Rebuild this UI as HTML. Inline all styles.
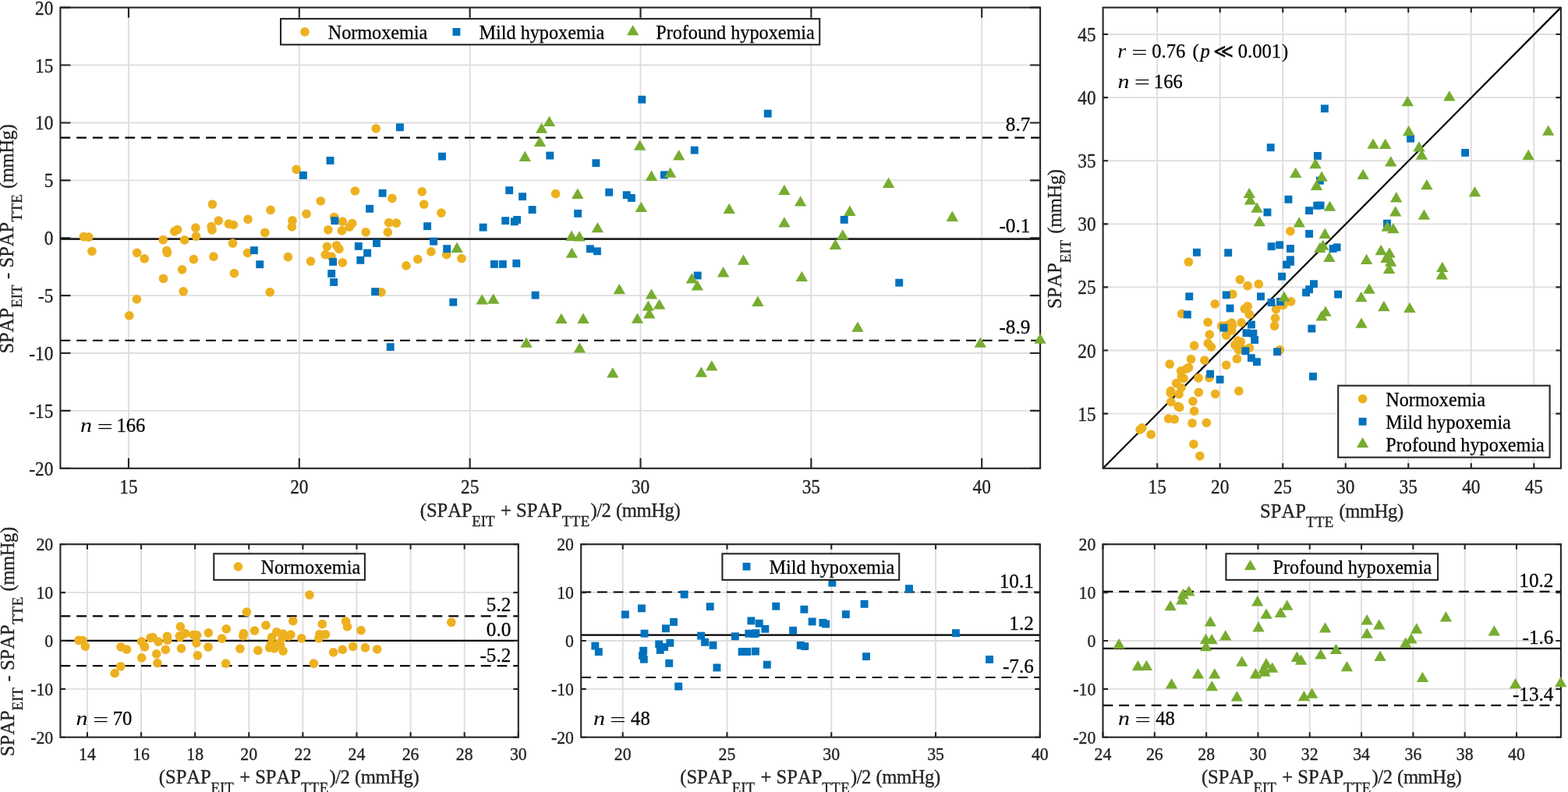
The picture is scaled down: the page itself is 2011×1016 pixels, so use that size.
<!DOCTYPE html>
<html lang="en"><head><meta charset="utf-8"><title>SPAP EIT vs TTE: Bland-Altman and correlation</title>
<style>html,body{margin:0;padding:0;background:#fff;}body{width:2011px;height:1016px;overflow:hidden;}svg{display:block;font-family:'Liberation Serif', 'DejaVu Serif', serif;font-kerning:none;}text{white-space:pre;stroke:#111;stroke-width:0.3px;stroke-linejoin:round;}</style>
</head><body>
<svg width="2011" height="1016" viewBox="0 0 2011 1016">
<rect width="2011" height="1016" fill="#fff"/>
<g stroke="#dedede" stroke-width="1.9" fill="none">
<line x1="164.94" y1="9.65" x2="164.94" y2="600.8"/>
<line x1="383.79" y1="9.65" x2="383.79" y2="600.8"/>
<line x1="602.64" y1="9.65" x2="602.64" y2="600.8"/>
<line x1="821.49" y1="9.65" x2="821.49" y2="600.8"/>
<line x1="1040.34" y1="9.65" x2="1040.34" y2="600.8"/>
<line x1="1259.19" y1="9.65" x2="1259.19" y2="600.8"/>
<line x1="77.4" y1="526.91" x2="1334.1" y2="526.91"/>
<line x1="77.4" y1="453.01" x2="1334.1" y2="453.01"/>
<line x1="77.4" y1="379.12" x2="1334.1" y2="379.12"/>
<line x1="77.4" y1="305.22" x2="1334.1" y2="305.22"/>
<line x1="77.4" y1="231.33" x2="1334.1" y2="231.33"/>
<line x1="77.4" y1="157.44" x2="1334.1" y2="157.44"/>
<line x1="77.4" y1="83.54" x2="1334.1" y2="83.54"/>
</g>
<line x1="77.4" y1="176.65" x2="1334.1" y2="176.65" stroke="#000" stroke-width="2.1" stroke-dasharray="12.8 7.944"/>
<line x1="77.4" y1="306.7" x2="1334.1" y2="306.7" stroke="#000" stroke-width="2.2"/>
<line x1="77.4" y1="436.76" x2="1334.1" y2="436.76" stroke="#000" stroke-width="2.1" stroke-dasharray="12.8 7.944"/>
<g stroke="#262626" stroke-width="2.1" fill="none">
<rect x="77.4" y="9.65" width="1256.7" height="591.15"/>
<path d="M164.94 600.8v-13M164.94 9.65v13M383.79 600.8v-13M383.79 9.65v13M602.64 600.8v-13M602.64 9.65v13M821.49 600.8v-13M821.49 9.65v13M1040.34 600.8v-13M1040.34 9.65v13M1259.19 600.8v-13M1259.19 9.65v13M77.4 600.8h13M1334.1 600.8h-13M77.4 526.91h13M1334.1 526.91h-13M77.4 453.01h13M1334.1 453.01h-13M77.4 379.12h13M1334.1 379.12h-13M77.4 305.22h13M1334.1 305.22h-13M77.4 231.33h13M1334.1 231.33h-13M77.4 157.44h13M1334.1 157.44h-13M77.4 83.54h13M1334.1 83.54h-13M77.4 9.65h13M1334.1 9.65h-13"/>
</g>
<g fill="#edb120">
<circle cx="107.3" cy="303.68" r="5.85"/>
<circle cx="113.8" cy="304.18" r="5.85"/>
<circle cx="117.9" cy="322.27" r="5.85"/>
<circle cx="175.7" cy="324.37" r="5.85"/>
<circle cx="185.2" cy="331.97" r="5.85"/>
<circle cx="209.2" cy="307.67" r="5.85"/>
<circle cx="213.8" cy="321.57" r="5.85"/>
<circle cx="214.5" cy="324.27" r="5.85"/>
<circle cx="209.5" cy="357.47" r="5.85"/>
<circle cx="223.8" cy="296.78" r="5.85"/>
<circle cx="227.6" cy="294.68" r="5.85"/>
<circle cx="236.6" cy="307.97" r="5.85"/>
<circle cx="233.6" cy="345.87" r="5.85"/>
<circle cx="250.9" cy="292.08" r="5.85"/>
<circle cx="251.5" cy="303.08" r="5.85"/>
<circle cx="248.4" cy="332.67" r="5.85"/>
<circle cx="272.4" cy="262.08" r="5.85"/>
<circle cx="271.1" cy="290.58" r="5.85"/>
<circle cx="272" cy="294.98" r="5.85"/>
<circle cx="280.3" cy="283.18" r="5.85"/>
<circle cx="273.9" cy="329.07" r="5.85"/>
<circle cx="293.4" cy="287.18" r="5.85"/>
<circle cx="299.4" cy="288.48" r="5.85"/>
<circle cx="298.5" cy="312.07" r="5.85"/>
<circle cx="300.4" cy="350.57" r="5.85"/>
<circle cx="318" cy="281.28" r="5.85"/>
<circle cx="317.6" cy="324.47" r="5.85"/>
<circle cx="235.1" cy="373.87" r="5.85"/>
<circle cx="175.4" cy="383.77" r="5.85"/>
<circle cx="165.8" cy="404.87" r="5.85"/>
<circle cx="347" cy="269.38" r="5.85"/>
<circle cx="339.8" cy="298.38" r="5.85"/>
<circle cx="375" cy="282.88" r="5.85"/>
<circle cx="374.4" cy="290.88" r="5.85"/>
<circle cx="369.4" cy="329.67" r="5.85"/>
<circle cx="393" cy="274.28" r="5.85"/>
<circle cx="411.3" cy="257.98" r="5.85"/>
<circle cx="398.5" cy="335.07" r="5.85"/>
<circle cx="428.7" cy="278.48" r="5.85"/>
<circle cx="420.9" cy="294.88" r="5.85"/>
<circle cx="439.3" cy="284.08" r="5.85"/>
<circle cx="438.4" cy="295.88" r="5.85"/>
<circle cx="451.7" cy="286.58" r="5.85"/>
<circle cx="448.2" cy="291.18" r="5.85"/>
<circle cx="455.4" cy="244.98" r="5.85"/>
<circle cx="469.1" cy="297.78" r="5.85"/>
<circle cx="419.4" cy="316.37" r="5.85"/>
<circle cx="431.6" cy="314.77" r="5.85"/>
<circle cx="434.9" cy="319.47" r="5.85"/>
<circle cx="417.2" cy="326.67" r="5.85"/>
<circle cx="425" cy="329.17" r="5.85"/>
<circle cx="439.3" cy="336.87" r="5.85"/>
<circle cx="502.9" cy="254.28" r="5.85"/>
<circle cx="498.7" cy="285.58" r="5.85"/>
<circle cx="508.3" cy="286.18" r="5.85"/>
<circle cx="497.3" cy="297.88" r="5.85"/>
<circle cx="541.2" cy="245.88" r="5.85"/>
<circle cx="543.7" cy="262.08" r="5.85"/>
<circle cx="521" cy="340.77" r="5.85"/>
<circle cx="535.8" cy="332.57" r="5.85"/>
<circle cx="552.9" cy="322.97" r="5.85"/>
<circle cx="482.2" cy="164.79" r="5.85"/>
<circle cx="380.2" cy="217.38" r="5.85"/>
<circle cx="346.2" cy="374.87" r="5.85"/>
<circle cx="489" cy="374.87" r="5.85"/>
<circle cx="565.9" cy="273.18" r="5.85"/>
<circle cx="712.6" cy="248.68" r="5.85"/>
<circle cx="572.7" cy="326.67" r="5.85"/>
<circle cx="592" cy="331.57" r="5.85"/>
</g>
<g fill="#0072bd">
<rect x="320.95" y="316.22" width="9.9" height="9.9"/>
<rect x="328.25" y="334.22" width="9.9" height="9.9"/>
<rect x="424.35" y="278.23" width="9.9" height="9.9"/>
<rect x="422.15" y="330.92" width="9.9" height="9.9"/>
<rect x="420.25" y="346.02" width="9.9" height="9.9"/>
<rect x="423.15" y="357.02" width="9.9" height="9.9"/>
<rect x="454.85" y="310.92" width="9.9" height="9.9"/>
<rect x="466.15" y="319.62" width="9.9" height="9.9"/>
<rect x="457.35" y="328.82" width="9.9" height="9.9"/>
<rect x="469.15" y="262.83" width="9.9" height="9.9"/>
<rect x="478.05" y="307.02" width="9.9" height="9.9"/>
<rect x="485.65" y="242.83" width="9.9" height="9.9"/>
<rect x="543.15" y="285.23" width="9.9" height="9.9"/>
<rect x="551.15" y="304.72" width="9.9" height="9.9"/>
<rect x="507.95" y="158.34" width="9.9" height="9.9"/>
<rect x="418.55" y="201.03" width="9.9" height="9.9"/>
<rect x="383.95" y="219.93" width="9.9" height="9.9"/>
<rect x="476.15" y="369.22" width="9.9" height="9.9"/>
<rect x="495.75" y="440.21" width="9.9" height="9.9"/>
<rect x="568.25" y="314.22" width="9.9" height="9.9"/>
<rect x="614.65" y="286.73" width="9.9" height="9.9"/>
<rect x="643.25" y="278.23" width="9.9" height="9.9"/>
<rect x="654.85" y="279.43" width="9.9" height="9.9"/>
<rect x="658.15" y="277.03" width="9.9" height="9.9"/>
<rect x="648.25" y="239.23" width="9.9" height="9.9"/>
<rect x="665.15" y="247.23" width="9.9" height="9.9"/>
<rect x="677.65" y="264.13" width="9.9" height="9.9"/>
<rect x="628.95" y="333.92" width="9.9" height="9.9"/>
<rect x="639.95" y="333.92" width="9.9" height="9.9"/>
<rect x="657.35" y="332.92" width="9.9" height="9.9"/>
<rect x="736.15" y="268.93" width="9.9" height="9.9"/>
<rect x="776.25" y="241.73" width="9.9" height="9.9"/>
<rect x="751.95" y="314.32" width="9.9" height="9.9"/>
<rect x="760.95" y="317.32" width="9.9" height="9.9"/>
<rect x="562.05" y="195.73" width="9.9" height="9.9"/>
<rect x="700.35" y="194.63" width="9.9" height="9.9"/>
<rect x="759.45" y="204.23" width="9.9" height="9.9"/>
<rect x="576.35" y="382.72" width="9.9" height="9.9"/>
<rect x="681.65" y="373.72" width="9.9" height="9.9"/>
<rect x="798.75" y="245.23" width="9.9" height="9.9"/>
<rect x="804.95" y="249.03" width="9.9" height="9.9"/>
<rect x="889.75" y="348.52" width="9.9" height="9.9"/>
<rect x="818.35" y="122.74" width="9.9" height="9.9"/>
<rect x="979.75" y="140.74" width="9.9" height="9.9"/>
<rect x="885.75" y="187.73" width="9.9" height="9.9"/>
<rect x="846.95" y="219.43" width="9.9" height="9.9"/>
<rect x="1077.75" y="276.93" width="9.9" height="9.9"/>
<rect x="1148.25" y="357.72" width="9.9" height="9.9"/>
</g>
<g fill="#77ac30">
<path d="M586.1 310.61l7.7 13.3h-15.4z"/>
<path d="M740.8 241.61l7.7 13.3h-15.4z"/>
<path d="M733.1 295.61l7.7 13.3h-15.4z"/>
<path d="M743.1 296.21l7.7 13.3h-15.4z"/>
<path d="M766.4 284.91l7.7 13.3h-15.4z"/>
<path d="M733.4 317.51l7.7 13.3h-15.4z"/>
<path d="M704.5 148.72l7.7 13.3h-15.4z"/>
<path d="M694.6 157.52l7.7 13.3h-15.4z"/>
<path d="M692.5 174.82l7.7 13.3h-15.4z"/>
<path d="M673.3 193.62l7.7 13.3h-15.4z"/>
<path d="M618.2 377.3l7.7 13.3h-15.4z"/>
<path d="M632.7 376.5l7.7 13.3h-15.4z"/>
<path d="M719.9 401.8l7.7 13.3h-15.4z"/>
<path d="M748 401.6l7.7 13.3h-15.4z"/>
<path d="M675.1 432.5l7.7 13.3h-15.4z"/>
<path d="M743.4 439.3l7.7 13.3h-15.4z"/>
<path d="M794.3 364l7.7 13.3h-15.4z"/>
<path d="M822.3 258.71l7.7 13.3h-15.4z"/>
<path d="M935.2 260.71l7.7 13.3h-15.4z"/>
<path d="M1005.9 236.71l7.7 13.3h-15.4z"/>
<path d="M1026.6 251.31l7.7 13.3h-15.4z"/>
<path d="M1005.9 278.31l7.7 13.3h-15.4z"/>
<path d="M953.5 326.51l7.7 13.3h-15.4z"/>
<path d="M927.6 342.1l7.7 13.3h-15.4z"/>
<path d="M887.3 350.1l7.7 13.3h-15.4z"/>
<path d="M1028.3 347.8l7.7 13.3h-15.4z"/>
<path d="M820.6 179.42l7.7 13.3h-15.4z"/>
<path d="M870.7 192.12l7.7 13.3h-15.4z"/>
<path d="M859.6 214.42l7.7 13.3h-15.4z"/>
<path d="M835.5 218.61l7.7 13.3h-15.4z"/>
<path d="M894.4 359.3l7.7 13.3h-15.4z"/>
<path d="M835.5 370.3l7.7 13.3h-15.4z"/>
<path d="M845.6 383.4l7.7 13.3h-15.4z"/>
<path d="M831.4 385.4l7.7 13.3h-15.4z"/>
<path d="M832.8 395.1l7.7 13.3h-15.4z"/>
<path d="M817.5 401.5l7.7 13.3h-15.4z"/>
<path d="M971.9 379.6l7.7 13.3h-15.4z"/>
<path d="M912.8 462.29l7.7 13.3h-15.4z"/>
<path d="M899.4 470.39l7.7 13.3h-15.4z"/>
<path d="M785.8 471.29l7.7 13.3h-15.4z"/>
<path d="M1139.6 227.61l7.7 13.3h-15.4z"/>
<path d="M1089.9 263.61l7.7 13.3h-15.4z"/>
<path d="M1221.3 270.61l7.7 13.3h-15.4z"/>
<path d="M1080.8 294.21l7.7 13.3h-15.4z"/>
<path d="M1071.4 306.71l7.7 13.3h-15.4z"/>
<path d="M1100 412.5l7.7 13.3h-15.4z"/>
<path d="M1257.3 432.4l7.7 13.3h-15.4z"/>
<path d="M1334 427.4l7.7 13.3h-15.4z"/>
</g>
<g font-size="24.3" fill="#262626">
<g text-anchor="middle">
<text transform="translate(164.94 633.1) scale(0.96 1)">15</text>
<text transform="translate(383.79 633.1) scale(0.96 1)">20</text>
<text transform="translate(602.64 633.1) scale(0.96 1)">25</text>
<text transform="translate(821.49 633.1) scale(0.96 1)">30</text>
<text transform="translate(1040.34 633.1) scale(0.96 1)">35</text>
<text transform="translate(1259.19 633.1) scale(0.96 1)">40</text>
</g><g text-anchor="end">
<text transform="translate(68.4 609.8) scale(0.96 1)">-20</text>
<text transform="translate(68.4 535.91) scale(0.96 1)">-15</text>
<text transform="translate(68.4 462.01) scale(0.96 1)">-10</text>
<text transform="translate(68.4 388.12) scale(0.96 1)">-5</text>
<text transform="translate(68.4 314.22) scale(0.96 1)">0</text>
<text transform="translate(68.4 240.33) scale(0.96 1)">5</text>
<text transform="translate(68.4 166.44) scale(0.96 1)">10</text>
<text transform="translate(68.4 92.54) scale(0.96 1)">15</text>
<text transform="translate(68.4 18.65) scale(0.96 1)">20</text>
</g></g>
<text x="1321.3" y="168.25" font-size="25.2" text-anchor="end" fill="#000">8.7</text>
<text x="1321.3" y="298.3" font-size="25.2" text-anchor="end" fill="#000">-0.1</text>
<text x="1321.3" y="428.36" font-size="25.2" text-anchor="end" fill="#000">-8.9</text>
<text transform="translate(539.7 663.3)" font-size="24.6" fill="#262626"><tspan x="-1" y="0">(SPAP</tspan><tspan x="65.6" y="11.6" font-size="18.9">EIT</tspan><tspan x="102.4" y="0">+</tspan><tspan x="122.4" y="0">SPAP</tspan><tspan x="181.1" y="11.6" font-size="18.9" letter-spacing="0.4">TTE</tspan><tspan x="217.7" y="0" letter-spacing="-0.45">)/2</tspan><tspan x="250.2" y="0" letter-spacing="-0.4">(mmHg)</tspan></text>
<text transform="translate(16.7 452.6) rotate(-90)" font-size="24.6" fill="#262626"><tspan x="-1" y="0">SPAP</tspan><tspan x="57.8" y="11.6" font-size="18.9">EIT</tspan><tspan x="94.7" y="0">-</tspan><tspan x="109.1" y="0">SPAP</tspan><tspan x="168.1" y="11.6" font-size="18.9" letter-spacing="0.4">TTE</tspan><tspan x="210.6" y="0" letter-spacing="-0.4">(mmHg)</tspan></text>
<text transform="translate(102.99 554.4) scale(1.219 1)" font-size="24.6" fill="#000" style="stroke:none" font-style="italic">n</text>
<text transform="translate(124.46 556) scale(1.470 1)" font-size="24.6" fill="#000" style="stroke:none">=</text>
<text x="149.45" y="554.4" font-size="24.6" fill="#000">166</text>
<rect x="360" y="24.1" width="691.2" height="33.2" fill="#fff" stroke="#262626" stroke-width="2.1"/>
<circle cx="391" cy="40.9" r="5.85" fill="#edb120"/>
<text x="420.7" y="49.8" font-size="24.2" fill="#000">Normoxemia</text>
<rect x="580.45" y="35.95" width="9.9" height="9.9" fill="#0072bd"/>
<text x="614.6" y="49.8" font-size="24.2" fill="#000">Mild hypoxemia</text>
<path d="M811.7 32.03l7.7 13.3h-15.4z" fill="#77ac30"/>
<text x="841.2" y="49.8" font-size="24.2" fill="#000">Profound hypoxemia</text>
<g stroke="#dedede" stroke-width="1.9" fill="none">
<line x1="1484.2" y1="9.65" x2="1484.2" y2="600.8"/>
<line x1="1564.72" y1="9.65" x2="1564.72" y2="600.8"/>
<line x1="1645.23" y1="9.65" x2="1645.23" y2="600.8"/>
<line x1="1725.75" y1="9.65" x2="1725.75" y2="600.8"/>
<line x1="1806.27" y1="9.65" x2="1806.27" y2="600.8"/>
<line x1="1886.78" y1="9.65" x2="1886.78" y2="600.8"/>
<line x1="1967.3" y1="9.65" x2="1967.3" y2="600.8"/>
<line x1="1414.6" y1="530.6" x2="2001.9" y2="530.6"/>
<line x1="1414.6" y1="449.51" x2="2001.9" y2="449.51"/>
<line x1="1414.6" y1="368.42" x2="2001.9" y2="368.42"/>
<line x1="1414.6" y1="287.33" x2="2001.9" y2="287.33"/>
<line x1="1414.6" y1="206.24" x2="2001.9" y2="206.24"/>
<line x1="1414.6" y1="125.15" x2="2001.9" y2="125.15"/>
<line x1="1414.6" y1="44.06" x2="2001.9" y2="44.06"/>
</g>
<line x1="1414.6" y1="600.8" x2="2001.9" y2="9.65" stroke="#000" stroke-width="2.2"/>
<g stroke="#262626" stroke-width="2.1" fill="none">
<rect x="1414.6" y="9.65" width="587.3" height="591.15"/>
<path d="M1484.2 600.8v-6.5M1484.2 9.65v6.5M1564.72 600.8v-6.5M1564.72 9.65v6.5M1645.23 600.8v-6.5M1645.23 9.65v6.5M1725.75 600.8v-6.5M1725.75 9.65v6.5M1806.27 600.8v-6.5M1806.27 9.65v6.5M1886.78 600.8v-6.5M1886.78 9.65v6.5M1967.3 600.8v-6.5M1967.3 9.65v6.5M1414.6 530.6h6.5M2001.9 530.6h-6.5M1414.6 449.51h6.5M2001.9 449.51h-6.5M1414.6 368.42h6.5M2001.9 368.42h-6.5M1414.6 287.33h6.5M2001.9 287.33h-6.5M1414.6 206.24h6.5M2001.9 206.24h-6.5M1414.6 125.15h6.5M2001.9 125.15h-6.5M1414.6 44.06h6.5M2001.9 44.06h-6.5"/>
</g>
<g fill="#edb120">
<circle cx="1462.15" cy="551.11" r="5.85"/>
<circle cx="1464.81" cy="548.97" r="5.85"/>
<circle cx="1476.18" cy="557.38" r="5.85"/>
<circle cx="1498.59" cy="537.12" r="5.85"/>
<circle cx="1506.23" cy="537.77" r="5.85"/>
<circle cx="1501.82" cy="515.54" r="5.85"/>
<circle cx="1511.08" cy="521.47" r="5.85"/>
<circle cx="1512.81" cy="522.69" r="5.85"/>
<circle cx="1529.06" cy="542.76" r="5.85"/>
<circle cx="1501.25" cy="504.15" r="5.85"/>
<circle cx="1501.51" cy="501.59" r="5.85"/>
<circle cx="1512.06" cy="505.56" r="5.85"/>
<circle cx="1531.61" cy="527.46" r="5.85"/>
<circle cx="1508.66" cy="491.53" r="5.85"/>
<circle cx="1514.87" cy="497.35" r="5.85"/>
<circle cx="1529.86" cy="514.74" r="5.85"/>
<circle cx="1500.23" cy="467.11" r="5.85"/>
<circle cx="1515.28" cy="483.23" r="5.85"/>
<circle cx="1518" cy="485.31" r="5.85"/>
<circle cx="1514.63" cy="475.76" r="5.85"/>
<circle cx="1537.28" cy="503.31" r="5.85"/>
<circle cx="1521.63" cy="473.1" r="5.85"/>
<circle cx="1524.54" cy="471.59" r="5.85"/>
<circle cx="1537.07" cy="484.87" r="5.85"/>
<circle cx="1558.74" cy="505.29" r="5.85"/>
<circle cx="1527.46" cy="460.75" r="5.85"/>
<circle cx="1550.85" cy="484.6" r="5.85"/>
<circle cx="1547.41" cy="542.27" r="5.85"/>
<circle cx="1530.84" cy="569.82" r="5.85"/>
<circle cx="1538.8" cy="584.95" r="5.85"/>
<circle cx="1531.65" cy="443.47" r="5.85"/>
<circle cx="1544.8" cy="462.05" r="5.85"/>
<circle cx="1549.31" cy="440.5" r="5.85"/>
<circle cx="1553.44" cy="445.12" r="5.85"/>
<circle cx="1572.74" cy="468.26" r="5.85"/>
<circle cx="1551.24" cy="429.12" r="5.85"/>
<circle cx="1549.1" cy="413.39" r="5.85"/>
<circle cx="1586.39" cy="460.44" r="5.85"/>
<circle cx="1566.67" cy="418.19" r="5.85"/>
<circle cx="1572.73" cy="430.08" r="5.85"/>
<circle cx="1573.62" cy="417.34" r="5.85"/>
<circle cx="1579.71" cy="424.15" r="5.85"/>
<circle cx="1579.54" cy="414.12" r="5.85"/>
<circle cx="1580.76" cy="417.94" r="5.85"/>
<circle cx="1558.24" cy="389.92" r="5.85"/>
<circle cx="1592.04" cy="413.81" r="5.85"/>
<circle cx="1583.89" cy="442.43" r="5.85"/>
<circle cx="1587.51" cy="437.03" r="5.85"/>
<circle cx="1591.28" cy="438.39" r="5.85"/>
<circle cx="1588.69" cy="448.9" r="5.85"/>
<circle cx="1592.93" cy="447.38" r="5.85"/>
<circle cx="1602.38" cy="446.31" r="5.85"/>
<circle cx="1580.78" cy="377.42" r="5.85"/>
<circle cx="1596.29" cy="396.15" r="5.85"/>
<circle cx="1600.15" cy="392.92" r="5.85"/>
<circle cx="1602.47" cy="403.42" r="5.85"/>
<circle cx="1590.3" cy="358.62" r="5.85"/>
<circle cx="1600.04" cy="366.58" r="5.85"/>
<circle cx="1634.56" cy="418.17" r="5.85"/>
<circle cx="1635.54" cy="408.19" r="5.85"/>
<circle cx="1636.6" cy="396.59" r="5.85"/>
<circle cx="1524.41" cy="335.99" r="5.85"/>
<circle cx="1515.54" cy="402.64" r="5.85"/>
<circle cx="1588.83" cy="501.65" r="5.85"/>
<circle cx="1641.37" cy="448.74" r="5.85"/>
<circle cx="1614.26" cy="364.45" r="5.85"/>
<circle cx="1654.88" cy="296.65" r="5.85"/>
<circle cx="1645.9" cy="391.28" r="5.85"/>
<circle cx="1655.67" cy="386.82" r="5.85"/>
</g>
<g fill="#0072bd">
<rect x="1547.16" y="474.76" width="9.9" height="9.9"/>
<rect x="1559.65" y="481.93" width="9.9" height="9.9"/>
<rect x="1564.5" y="415.6" width="9.9" height="9.9"/>
<rect x="1592.4" y="445.33" width="9.9" height="9.9"/>
<rect x="1599.92" y="454.32" width="9.9" height="9.9"/>
<rect x="1606.98" y="459.28" width="9.9" height="9.9"/>
<rect x="1593.53" y="422.24" width="9.9" height="9.9"/>
<rect x="1602.43" y="422.83" width="9.9" height="9.9"/>
<rect x="1604.2" y="431.13" width="9.9" height="9.9"/>
<rect x="1572.59" y="390.55" width="9.9" height="9.9"/>
<rect x="1599.94" y="411.5" width="9.9" height="9.9"/>
<rect x="1567.77" y="373.46" width="9.9" height="9.9"/>
<rect x="1612.02" y="375.42" width="9.9" height="9.9"/>
<rect x="1625.59" y="383.16" width="9.9" height="9.9"/>
<rect x="1529.94" y="318.84" width="9.9" height="9.9"/>
<rect x="1520.31" y="375.39" width="9.9" height="9.9"/>
<rect x="1517.87" y="398.58" width="9.9" height="9.9"/>
<rect x="1633.13" y="446.33" width="9.9" height="9.9"/>
<rect x="1679.02" y="478.02" width="9.9" height="9.9"/>
<rect x="1637.05" y="382.03" width="9.9" height="9.9"/>
<rect x="1639.14" y="349.75" width="9.9" height="9.9"/>
<rect x="1645.03" y="334.49" width="9.9" height="9.9"/>
<rect x="1649.95" y="330.85" width="9.9" height="9.9"/>
<rect x="1649.86" y="328.31" width="9.9" height="9.9"/>
<rect x="1625.63" y="311.24" width="9.9" height="9.9"/>
<rect x="1636.2" y="309.37" width="9.9" height="9.9"/>
<rect x="1650.01" y="314.01" width="9.9" height="9.9"/>
<rect x="1670.12" y="370.35" width="9.9" height="9.9"/>
<rect x="1674.16" y="366.27" width="9.9" height="9.9"/>
<rect x="1680.02" y="359.28" width="9.9" height="9.9"/>
<rect x="1674.15" y="294.97" width="9.9" height="9.9"/>
<rect x="1674.08" y="265.19" width="9.9" height="9.9"/>
<rect x="1704.69" y="314.02" width="9.9" height="9.9"/>
<rect x="1709.64" y="312.33" width="9.9" height="9.9"/>
<rect x="1570.22" y="319.31" width="9.9" height="9.9"/>
<rect x="1620.5" y="267.47" width="9.9" height="9.9"/>
<rect x="1647.47" y="250.84" width="9.9" height="9.9"/>
<rect x="1677.35" y="416.61" width="9.9" height="9.9"/>
<rect x="1711.19" y="372.66" width="9.9" height="9.9"/>
<rect x="1684.27" y="258.77" width="9.9" height="9.9"/>
<rect x="1688.62" y="258.56" width="9.9" height="9.9"/>
<rect x="1774.02" y="281.73" width="9.9" height="9.9"/>
<rect x="1624.74" y="184.3" width="9.9" height="9.9"/>
<rect x="1693.93" y="134.37" width="9.9" height="9.9"/>
<rect x="1684.95" y="194.99" width="9.9" height="9.9"/>
<rect x="1687.94" y="226.75" width="9.9" height="9.9"/>
<rect x="1804.18" y="172.78" width="9.9" height="9.9"/>
<rect x="1874.14" y="190.99" width="9.9" height="9.9"/>
</g>
<g fill="#77ac30">
<path d="M1646.91 373.5l7.7 13.3h-15.4z"/>
<path d="M1666.24 278.32l7.7 13.3h-15.4z"/>
<path d="M1692.82 310.8l7.7 13.3h-15.4z"/>
<path d="M1696.83 307.43l7.7 13.3h-15.4z"/>
<path d="M1699.24 292.59l7.7 13.3h-15.4z"/>
<path d="M1704.86 322.71l7.7 13.3h-15.4z"/>
<path d="M1602.27 240.8l7.7 13.3h-15.4z"/>
<path d="M1603.43 249.3l7.7 13.3h-15.4z"/>
<path d="M1612.08 259.57l7.7 13.3h-15.4z"/>
<path d="M1615.25 277l7.7 13.3h-15.4z"/>
<path d="M1695.06 398.2l7.7 13.3h-15.4z"/>
<path d="M1699.96 392.39l7.7 13.3h-15.4z"/>
<path d="M1745.82 373.96l7.7 13.3h-15.4z"/>
<path d="M1756.05 363.44l7.7 13.3h-15.4z"/>
<path d="M1746.06 407.4l7.7 13.3h-15.4z"/>
<path d="M1774.89 385.83l7.7 13.3h-15.4z"/>
<path d="M1752.6 325.65l7.7 13.3h-15.4z"/>
<path d="M1705.54 257.51l7.7 13.3h-15.4z"/>
<path d="M1748.16 216.77l7.7 13.3h-15.4z"/>
<path d="M1761.1 177.41l7.7 13.3h-15.4z"/>
<path d="M1776.67 177.75l7.7 13.3h-15.4z"/>
<path d="M1783.76 200.23l7.7 13.3h-15.4z"/>
<path d="M1790.74 246.09l7.7 13.3h-15.4z"/>
<path d="M1789.71 264.25l7.7 13.3h-15.4z"/>
<path d="M1779.24 283.57l7.7 13.3h-15.4z"/>
<path d="M1829.87 230.06l7.7 13.3h-15.4z"/>
<path d="M1661.71 214.63l7.7 13.3h-15.4z"/>
<path d="M1687.06 203.03l7.7 13.3h-15.4z"/>
<path d="M1695.13 219.38l7.7 13.3h-15.4z"/>
<path d="M1688.55 230.61l7.7 13.3h-15.4z"/>
<path d="M1786.87 285.99l7.7 13.3h-15.4z"/>
<path d="M1771.19 313.84l7.7 13.3h-15.4z"/>
<path d="M1782.04 317.29l7.7 13.3h-15.4z"/>
<path d="M1777.91 323.65l7.7 13.3h-15.4z"/>
<path d="M1783.71 328.45l7.7 13.3h-15.4z"/>
<path d="M1781.56 337.63l7.7 13.3h-15.4z"/>
<path d="M1826.44 268.41l7.7 13.3h-15.4z"/>
<path d="M1849.75 335.68l7.7 13.3h-15.4z"/>
<path d="M1849.23 345.09l7.7 13.3h-15.4z"/>
<path d="M1807.93 387.67l7.7 13.3h-15.4z"/>
<path d="M1805.33 122.88l7.7 13.3h-15.4z"/>
<path d="M1806.66 161.04l7.7 13.3h-15.4z"/>
<path d="M1858.82 116.19l7.7 13.3h-15.4z"/>
<path d="M1819.98 181.2l7.7 13.3h-15.4z"/>
<path d="M1823.33 191.54l7.7 13.3h-15.4z"/>
<path d="M1891.49 238.99l7.7 13.3h-15.4z"/>
<path d="M1960.2 191.63l7.7 13.3h-15.4z"/>
<path d="M1985.7 160.46l7.7 13.3h-15.4z"/>
</g>
<g font-size="24.3" fill="#262626">
<g text-anchor="middle">
<text transform="translate(1484.2 633.1) scale(0.96 1)">15</text>
<text transform="translate(1564.72 633.1) scale(0.96 1)">20</text>
<text transform="translate(1645.23 633.1) scale(0.96 1)">25</text>
<text transform="translate(1725.75 633.1) scale(0.96 1)">30</text>
<text transform="translate(1806.27 633.1) scale(0.96 1)">35</text>
<text transform="translate(1886.78 633.1) scale(0.96 1)">40</text>
<text transform="translate(1967.3 633.1) scale(0.96 1)">45</text>
</g><g text-anchor="end">
<text transform="translate(1405.6 539.6) scale(0.96 1)">15</text>
<text transform="translate(1405.6 458.51) scale(0.96 1)">20</text>
<text transform="translate(1405.6 377.42) scale(0.96 1)">25</text>
<text transform="translate(1405.6 296.33) scale(0.96 1)">30</text>
<text transform="translate(1405.6 215.24) scale(0.96 1)">35</text>
<text transform="translate(1405.6 134.15) scale(0.96 1)">40</text>
<text transform="translate(1405.6 53.06) scale(0.96 1)">45</text>
</g></g>
<text transform="translate(1617.1 664)" font-size="24.6" fill="#262626"><tspan x="-1" y="0">SPAP</tspan><tspan x="57.9" y="11.6" font-size="18.9" letter-spacing="0.4">TTE</tspan><tspan x="100.4" y="0" letter-spacing="-0.4">(mmHg)</tspan></text>
<text transform="translate(1361 394.95) rotate(-90)" font-size="24.6" fill="#262626"><tspan x="-1" y="0">SPAP</tspan><tspan x="57.8" y="11.6" font-size="18.9">EIT</tspan><tspan x="95.3" y="0" letter-spacing="-0.4">(mmHg)</tspan></text>
<text transform="translate(1433.16 74.3) scale(1.143 1)" font-size="24.6" fill="#000" style="stroke:none" font-style="italic">r</text>
<text transform="translate(1451.16 75.9) scale(1.470 1)" font-size="24.6" fill="#000" style="stroke:none">=</text>
<text x="1477.3" y="74.3" font-size="24.6" fill="#000">0.76</text>
<text x="1529.5" y="74.3" font-size="24.6" fill="#000">(</text>
<text x="1539.5" y="74.3" font-size="24.6" fill="#000" font-style="italic">p</text>
<text x="1556.35" y="74.3" font-size="24.6" fill="#000">≪</text>
<text x="1587.7" y="74.3" font-size="24.6" fill="#000">0.001</text>
<text x="1643.95" y="74.3" font-size="24.6" fill="#000">)</text>
<text transform="translate(1433.39 112.5) scale(1.219 1)" font-size="24.6" fill="#000" style="stroke:none" font-style="italic">n</text>
<text transform="translate(1454.86 114.1) scale(1.470 1)" font-size="24.6" fill="#000" style="stroke:none">=</text>
<text x="1479.85" y="112.5" font-size="24.6" fill="#000">166</text>
<rect x="1716.2" y="494.7" width="271.4" height="92" fill="#fff" stroke="#262626" stroke-width="2.1"/>
<circle cx="1747.6" cy="511.7" r="5.85" fill="#edb120"/>
<text x="1777.3" y="520.5" font-size="24.2" fill="#000">Normoxemia</text>
<rect x="1742.65" y="535.85" width="9.9" height="9.9" fill="#0072bd"/>
<text x="1777.3" y="549.6" font-size="24.2" fill="#000">Mild hypoxemia</text>
<path d="M1747.6 561.03l7.7 13.3h-15.4z" fill="#77ac30"/>
<text x="1777.3" y="578.7" font-size="24.2" fill="#000">Profound hypoxemia</text>
<g stroke="#dedede" stroke-width="1.9" fill="none">
<line x1="111.95" y1="698.2" x2="111.95" y2="945.7"/>
<line x1="181.06" y1="698.2" x2="181.06" y2="945.7"/>
<line x1="250.16" y1="698.2" x2="250.16" y2="945.7"/>
<line x1="319.27" y1="698.2" x2="319.27" y2="945.7"/>
<line x1="388.38" y1="698.2" x2="388.38" y2="945.7"/>
<line x1="457.48" y1="698.2" x2="457.48" y2="945.7"/>
<line x1="526.59" y1="698.2" x2="526.59" y2="945.7"/>
<line x1="595.69" y1="698.2" x2="595.69" y2="945.7"/>
<line x1="77.4" y1="883.83" x2="664.8" y2="883.83"/>
<line x1="77.4" y1="821.95" x2="664.8" y2="821.95"/>
<line x1="77.4" y1="760.08" x2="664.8" y2="760.08"/>
</g>
<line x1="77.4" y1="790.33" x2="664.8" y2="790.33" stroke="#000" stroke-width="2.1" stroke-dasharray="12.8 7.944"/>
<line x1="77.4" y1="821.95" x2="664.8" y2="821.95" stroke="#000" stroke-width="2.2"/>
<line x1="77.4" y1="854.12" x2="664.8" y2="854.12" stroke="#000" stroke-width="2.1" stroke-dasharray="12.8 7.944"/>
<g stroke="#262626" stroke-width="2.1" fill="none">
<rect x="77.4" y="698.2" width="587.4" height="247.5"/>
<path d="M111.95 945.7v-6.5M111.95 698.2v6.5M181.06 945.7v-6.5M181.06 698.2v6.5M250.16 945.7v-6.5M250.16 698.2v6.5M319.27 945.7v-6.5M319.27 698.2v6.5M388.38 945.7v-6.5M388.38 698.2v6.5M457.48 945.7v-6.5M457.48 698.2v6.5M526.59 945.7v-6.5M526.59 698.2v6.5M595.69 945.7v-6.5M595.69 698.2v6.5M664.8 945.7v-6.5M664.8 698.2v6.5M77.4 945.7h6.5M664.8 945.7h-6.5M77.4 883.83h6.5M664.8 883.83h-6.5M77.4 821.95h6.5M664.8 821.95h-6.5M77.4 760.08h6.5M664.8 760.08h-6.5M77.4 698.2h6.5M664.8 698.2h-6.5"/>
</g>
<g fill="#edb120">
<circle cx="101" cy="821.3" r="5.85"/>
<circle cx="106.13" cy="821.51" r="5.85"/>
<circle cx="109.37" cy="829.09" r="5.85"/>
<circle cx="155" cy="829.97" r="5.85"/>
<circle cx="162.5" cy="833.15" r="5.85"/>
<circle cx="181.45" cy="822.98" r="5.85"/>
<circle cx="185.08" cy="828.79" r="5.85"/>
<circle cx="185.63" cy="829.93" r="5.85"/>
<circle cx="181.68" cy="843.82" r="5.85"/>
<circle cx="192.97" cy="818.41" r="5.85"/>
<circle cx="195.97" cy="817.53" r="5.85"/>
<circle cx="203.08" cy="823.1" r="5.85"/>
<circle cx="200.71" cy="838.97" r="5.85"/>
<circle cx="214.36" cy="816.44" r="5.85"/>
<circle cx="214.84" cy="821.05" r="5.85"/>
<circle cx="212.39" cy="833.44" r="5.85"/>
<circle cx="231.34" cy="803.89" r="5.85"/>
<circle cx="230.31" cy="815.82" r="5.85"/>
<circle cx="231.02" cy="817.66" r="5.85"/>
<circle cx="237.57" cy="812.72" r="5.85"/>
<circle cx="232.52" cy="831.93" r="5.85"/>
<circle cx="247.91" cy="814.39" r="5.85"/>
<circle cx="252.65" cy="814.94" r="5.85"/>
<circle cx="251.94" cy="824.82" r="5.85"/>
<circle cx="253.44" cy="840.94" r="5.85"/>
<circle cx="267.33" cy="811.92" r="5.85"/>
<circle cx="267.02" cy="830.01" r="5.85"/>
<circle cx="201.89" cy="850.69" r="5.85"/>
<circle cx="154.76" cy="854.83" r="5.85"/>
<circle cx="147.18" cy="863.67" r="5.85"/>
<circle cx="290.23" cy="806.94" r="5.85"/>
<circle cx="284.54" cy="819.08" r="5.85"/>
<circle cx="312.33" cy="812.59" r="5.85"/>
<circle cx="311.86" cy="815.94" r="5.85"/>
<circle cx="307.91" cy="832.19" r="5.85"/>
<circle cx="326.54" cy="808.99" r="5.85"/>
<circle cx="340.99" cy="802.17" r="5.85"/>
<circle cx="330.88" cy="834.45" r="5.85"/>
<circle cx="354.72" cy="810.75" r="5.85"/>
<circle cx="348.57" cy="817.62" r="5.85"/>
<circle cx="363.09" cy="813.1" r="5.85"/>
<circle cx="362.38" cy="818.04" r="5.85"/>
<circle cx="372.88" cy="814.14" r="5.85"/>
<circle cx="370.12" cy="816.07" r="5.85"/>
<circle cx="375.8" cy="796.73" r="5.85"/>
<circle cx="386.62" cy="818.83" r="5.85"/>
<circle cx="347.38" cy="826.62" r="5.85"/>
<circle cx="357.01" cy="825.95" r="5.85"/>
<circle cx="359.62" cy="827.92" r="5.85"/>
<circle cx="345.65" cy="830.93" r="5.85"/>
<circle cx="351.8" cy="831.98" r="5.85"/>
<circle cx="363.09" cy="835.2" r="5.85"/>
<circle cx="413.3" cy="800.62" r="5.85"/>
<circle cx="409.98" cy="813.72" r="5.85"/>
<circle cx="417.56" cy="813.97" r="5.85"/>
<circle cx="408.88" cy="818.87" r="5.85"/>
<circle cx="443.53" cy="797.1" r="5.85"/>
<circle cx="445.51" cy="803.89" r="5.85"/>
<circle cx="427.59" cy="836.83" r="5.85"/>
<circle cx="439.27" cy="833.4" r="5.85"/>
<circle cx="452.77" cy="829.38" r="5.85"/>
<circle cx="396.96" cy="763.15" r="5.85"/>
<circle cx="316.44" cy="785.17" r="5.85"/>
<circle cx="289.6" cy="851.11" r="5.85"/>
<circle cx="402.33" cy="851.11" r="5.85"/>
<circle cx="463.03" cy="808.53" r="5.85"/>
<circle cx="578.84" cy="798.28" r="5.85"/>
<circle cx="468.4" cy="830.93" r="5.85"/>
<circle cx="483.64" cy="832.98" r="5.85"/>
</g>
<g font-size="22.7" fill="#262626">
<g text-anchor="middle">
<text transform="translate(111.95 975) scale(0.96 1)">14</text>
<text transform="translate(181.06 975) scale(0.96 1)">16</text>
<text transform="translate(250.16 975) scale(0.96 1)">18</text>
<text transform="translate(319.27 975) scale(0.96 1)">20</text>
<text transform="translate(388.38 975) scale(0.96 1)">22</text>
<text transform="translate(457.48 975) scale(0.96 1)">24</text>
<text transform="translate(526.59 975) scale(0.96 1)">26</text>
<text transform="translate(595.69 975) scale(0.96 1)">28</text>
<text transform="translate(664.8 975) scale(0.96 1)">30</text>
</g><g text-anchor="end">
<text transform="translate(68.2 953.8) scale(0.96 1)">-20</text>
<text transform="translate(68.2 891.93) scale(0.96 1)">-10</text>
<text transform="translate(68.2 830.05) scale(0.96 1)">0</text>
<text transform="translate(68.2 768.18) scale(0.96 1)">10</text>
<text transform="translate(68.2 706.3) scale(0.96 1)">20</text>
</g></g>
<text x="655.3" y="784.28" font-size="25.2" text-anchor="end" fill="#000">5.2</text>
<text x="655.3" y="816.45" font-size="25.2" text-anchor="end" fill="#000">0.0</text>
<text x="655.3" y="848.62" font-size="25.2" text-anchor="end" fill="#000">-5.2</text>
<text transform="translate(204.8 1004.9)" font-size="24.6" fill="#262626"><tspan x="-1" y="0">(SPAP</tspan><tspan x="65.6" y="11.6" font-size="18.9">EIT</tspan><tspan x="102.4" y="0">+</tspan><tspan x="122.4" y="0">SPAP</tspan><tspan x="181.1" y="11.6" font-size="18.9" letter-spacing="0.4">TTE</tspan><tspan x="217.7" y="0" letter-spacing="-0.45">)/2</tspan><tspan x="250.2" y="0" letter-spacing="-0.4">(mmHg)</tspan></text>
<text transform="translate(97.59 929.9) scale(1.219 1)" font-size="24.6" fill="#000" style="stroke:none" font-style="italic">n</text>
<text transform="translate(119.06 931.5) scale(1.470 1)" font-size="24.6" fill="#000" style="stroke:none">=</text>
<text x="144.8" y="929.9" font-size="24.6" fill="#000">70</text>
<rect x="274.3" y="710.3" width="193.6" height="33.6" fill="#fff" stroke="#262626" stroke-width="2.1"/>
<circle cx="305.4" cy="726.8" r="5.85" fill="#edb120"/>
<text x="334.5" y="736.1" font-size="24.2" fill="#000">Normoxemia</text>
<text transform="translate(17.5 969.2) rotate(-90)" font-size="24.6" fill="#262626"><tspan x="-1" y="0">SPAP</tspan><tspan x="57.8" y="11.6" font-size="18.9">EIT</tspan><tspan x="94.7" y="0">-</tspan><tspan x="109.1" y="0">SPAP</tspan><tspan x="168.1" y="11.6" font-size="18.9" letter-spacing="0.4">TTE</tspan><tspan x="210.6" y="0" letter-spacing="-0.4">(mmHg)</tspan></text>
<g stroke="#dedede" stroke-width="1.9" fill="none">
<line x1="798.71" y1="698.2" x2="798.71" y2="945.7"/>
<line x1="932.48" y1="698.2" x2="932.48" y2="945.7"/>
<line x1="1066.25" y1="698.2" x2="1066.25" y2="945.7"/>
<line x1="1200.03" y1="698.2" x2="1200.03" y2="945.7"/>
<line x1="745.2" y1="883.83" x2="1333.8" y2="883.83"/>
<line x1="745.2" y1="821.95" x2="1333.8" y2="821.95"/>
<line x1="745.2" y1="760.08" x2="1333.8" y2="760.08"/>
</g>
<line x1="745.2" y1="759.46" x2="1333.8" y2="759.46" stroke="#000" stroke-width="2.1" stroke-dasharray="12.8 7.944"/>
<line x1="745.2" y1="814.53" x2="1333.8" y2="814.53" stroke="#000" stroke-width="2.2"/>
<line x1="745.2" y1="868.98" x2="1333.8" y2="868.98" stroke="#000" stroke-width="2.1" stroke-dasharray="12.8 7.944"/>
<g stroke="#262626" stroke-width="2.1" fill="none">
<rect x="745.2" y="698.2" width="588.6" height="247.5"/>
<path d="M798.71 945.7v-6.5M798.71 698.2v6.5M932.48 945.7v-6.5M932.48 698.2v6.5M1066.25 945.7v-6.5M1066.25 698.2v6.5M1200.03 945.7v-6.5M1200.03 698.2v6.5M1333.8 945.7v-6.5M1333.8 698.2v6.5M745.2 945.7h6.5M1333.8 945.7h-6.5M745.2 883.83h6.5M1333.8 883.83h-6.5M745.2 821.95h6.5M1333.8 821.95h-6.5M745.2 760.08h6.5M1333.8 760.08h-6.5M745.2 698.2h6.5M1333.8 698.2h-6.5"/>
</g>
<g fill="#0072bd">
<rect x="758.37" y="823.68" width="9.9" height="9.9"/>
<rect x="762.84" y="831.21" width="9.9" height="9.9"/>
<rect x="821.58" y="807.77" width="9.9" height="9.9"/>
<rect x="820.23" y="829.83" width="9.9" height="9.9"/>
<rect x="819.07" y="836.15" width="9.9" height="9.9"/>
<rect x="820.84" y="840.76" width="9.9" height="9.9"/>
<rect x="840.22" y="821.46" width="9.9" height="9.9"/>
<rect x="847.13" y="825.1" width="9.9" height="9.9"/>
<rect x="841.75" y="828.95" width="9.9" height="9.9"/>
<rect x="848.96" y="801.32" width="9.9" height="9.9"/>
<rect x="854.4" y="819.83" width="9.9" height="9.9"/>
<rect x="859.05" y="792.95" width="9.9" height="9.9"/>
<rect x="894.19" y="810.7" width="9.9" height="9.9"/>
<rect x="899.08" y="818.86" width="9.9" height="9.9"/>
<rect x="872.68" y="757.57" width="9.9" height="9.9"/>
<rect x="818.03" y="775.45" width="9.9" height="9.9"/>
<rect x="796.88" y="783.36" width="9.9" height="9.9"/>
<rect x="853.24" y="845.87" width="9.9" height="9.9"/>
<rect x="865.22" y="875.59" width="9.9" height="9.9"/>
<rect x="909.54" y="822.84" width="9.9" height="9.9"/>
<rect x="937.9" y="811.33" width="9.9" height="9.9"/>
<rect x="955.38" y="807.77" width="9.9" height="9.9"/>
<rect x="962.47" y="808.27" width="9.9" height="9.9"/>
<rect x="964.49" y="807.27" width="9.9" height="9.9"/>
<rect x="958.44" y="791.44" width="9.9" height="9.9"/>
<rect x="968.77" y="794.79" width="9.9" height="9.9"/>
<rect x="976.41" y="801.87" width="9.9" height="9.9"/>
<rect x="946.64" y="831.09" width="9.9" height="9.9"/>
<rect x="953.36" y="831.09" width="9.9" height="9.9"/>
<rect x="964" y="830.67" width="9.9" height="9.9"/>
<rect x="1012.17" y="803.88" width="9.9" height="9.9"/>
<rect x="1036.68" y="792.49" width="9.9" height="9.9"/>
<rect x="1021.82" y="822.88" width="9.9" height="9.9"/>
<rect x="1027.32" y="824.14" width="9.9" height="9.9"/>
<rect x="905.75" y="773.23" width="9.9" height="9.9"/>
<rect x="990.28" y="772.77" width="9.9" height="9.9"/>
<rect x="1026.41" y="776.79" width="9.9" height="9.9"/>
<rect x="914.49" y="851.52" width="9.9" height="9.9"/>
<rect x="978.85" y="847.75" width="9.9" height="9.9"/>
<rect x="1050.43" y="793.95" width="9.9" height="9.9"/>
<rect x="1054.22" y="795.54" width="9.9" height="9.9"/>
<rect x="1106.05" y="837.2" width="9.9" height="9.9"/>
<rect x="1062.41" y="742.67" width="9.9" height="9.9"/>
<rect x="1161.07" y="750.21" width="9.9" height="9.9"/>
<rect x="1103.61" y="769.88" width="9.9" height="9.9"/>
<rect x="1079.89" y="783.15" width="9.9" height="9.9"/>
<rect x="1220.97" y="807.22" width="9.9" height="9.9"/>
<rect x="1264.06" y="841.05" width="9.9" height="9.9"/>
</g>
<g font-size="22.7" fill="#262626">
<g text-anchor="middle">
<text transform="translate(798.71 975) scale(0.96 1)">20</text>
<text transform="translate(932.48 975) scale(0.96 1)">25</text>
<text transform="translate(1066.25 975) scale(0.96 1)">30</text>
<text transform="translate(1200.03 975) scale(0.96 1)">35</text>
<text transform="translate(1333.8 975) scale(0.96 1)">40</text>
</g><g text-anchor="end">
<text transform="translate(736 953.8) scale(0.96 1)">-20</text>
<text transform="translate(736 891.93) scale(0.96 1)">-10</text>
<text transform="translate(736 830.05) scale(0.96 1)">0</text>
<text transform="translate(736 768.18) scale(0.96 1)">10</text>
<text transform="translate(736 706.3) scale(0.96 1)">20</text>
</g></g>
<text x="1325.8" y="753.61" font-size="25.2" text-anchor="end" fill="#000">10.1</text>
<text x="1325.8" y="808.13" font-size="25.2" text-anchor="end" fill="#000">1.2</text>
<text x="1325.8" y="863.48" font-size="25.2" text-anchor="end" fill="#000">-7.6</text>
<text transform="translate(873.2 1004.9)" font-size="24.6" fill="#262626"><tspan x="-1" y="0">(SPAP</tspan><tspan x="65.6" y="11.6" font-size="18.9">EIT</tspan><tspan x="102.4" y="0">+</tspan><tspan x="122.4" y="0">SPAP</tspan><tspan x="181.1" y="11.6" font-size="18.9" letter-spacing="0.4">TTE</tspan><tspan x="217.7" y="0" letter-spacing="-0.45">)/2</tspan><tspan x="250.2" y="0" letter-spacing="-0.4">(mmHg)</tspan></text>
<text transform="translate(760.89 929.9) scale(1.219 1)" font-size="24.6" fill="#000" style="stroke:none" font-style="italic">n</text>
<text transform="translate(782.36 931.5) scale(1.470 1)" font-size="24.6" fill="#000" style="stroke:none">=</text>
<text x="809.1" y="929.9" font-size="24.6" fill="#000">48</text>
<rect x="926.4" y="710.3" width="226.8" height="33.6" fill="#fff" stroke="#262626" stroke-width="2.1"/>
<rect x="952.55" y="721.85" width="9.9" height="9.9" fill="#0072bd"/>
<text x="986.6" y="736.1" font-size="24.2" fill="#000">Mild hypoxemia</text>
<g stroke="#dedede" stroke-width="1.9" fill="none">
<line x1="1480.81" y1="698.2" x2="1480.81" y2="945.7"/>
<line x1="1547.13" y1="698.2" x2="1547.13" y2="945.7"/>
<line x1="1613.44" y1="698.2" x2="1613.44" y2="945.7"/>
<line x1="1679.75" y1="698.2" x2="1679.75" y2="945.7"/>
<line x1="1746.06" y1="698.2" x2="1746.06" y2="945.7"/>
<line x1="1812.38" y1="698.2" x2="1812.38" y2="945.7"/>
<line x1="1878.69" y1="698.2" x2="1878.69" y2="945.7"/>
<line x1="1945" y1="698.2" x2="1945" y2="945.7"/>
<line x1="1414.5" y1="883.83" x2="2001.9" y2="883.83"/>
<line x1="1414.5" y1="821.95" x2="2001.9" y2="821.95"/>
<line x1="1414.5" y1="760.08" x2="2001.9" y2="760.08"/>
</g>
<line x1="1414.5" y1="758.84" x2="2001.9" y2="758.84" stroke="#000" stroke-width="2.1" stroke-dasharray="12.8 7.944"/>
<line x1="1414.5" y1="831.85" x2="2001.9" y2="831.85" stroke="#000" stroke-width="2.2"/>
<line x1="1414.5" y1="904.86" x2="2001.9" y2="904.86" stroke="#000" stroke-width="2.1" stroke-dasharray="12.8 7.944"/>
<g stroke="#262626" stroke-width="2.1" fill="none">
<rect x="1414.5" y="698.2" width="587.4" height="247.5"/>
<path d="M1414.5 945.7v-6.5M1414.5 698.2v6.5M1480.81 945.7v-6.5M1480.81 698.2v6.5M1547.13 945.7v-6.5M1547.13 698.2v6.5M1613.44 945.7v-6.5M1613.44 698.2v6.5M1679.75 945.7v-6.5M1679.75 698.2v6.5M1746.06 945.7v-6.5M1746.06 698.2v6.5M1812.38 945.7v-6.5M1812.38 698.2v6.5M1878.69 945.7v-6.5M1878.69 698.2v6.5M1945 945.7v-6.5M1945 698.2v6.5M1414.5 945.7h6.5M2001.9 945.7h-6.5M1414.5 883.83h6.5M2001.9 883.83h-6.5M1414.5 821.95h6.5M2001.9 821.95h-6.5M1414.5 760.08h6.5M2001.9 760.08h-6.5M1414.5 698.2h6.5M2001.9 698.2h-6.5"/>
</g>
<g fill="#77ac30">
<path d="M1435.13 819.05l7.7 13.3h-15.4z"/>
<path d="M1552.31 790.16l7.7 13.3h-15.4z"/>
<path d="M1546.48 812.77l7.7 13.3h-15.4z"/>
<path d="M1554.06 813.02l7.7 13.3h-15.4z"/>
<path d="M1571.71 808.29l7.7 13.3h-15.4z"/>
<path d="M1546.71 821.94l7.7 13.3h-15.4z"/>
<path d="M1524.82 751.27l7.7 13.3h-15.4z"/>
<path d="M1517.32 754.96l7.7 13.3h-15.4z"/>
<path d="M1515.73 762.2l7.7 13.3h-15.4z"/>
<path d="M1501.18 770.07l7.7 13.3h-15.4z"/>
<path d="M1459.44 846.97l7.7 13.3h-15.4z"/>
<path d="M1470.43 846.64l7.7 13.3h-15.4z"/>
<path d="M1536.48 857.23l7.7 13.3h-15.4z"/>
<path d="M1557.77 857.15l7.7 13.3h-15.4z"/>
<path d="M1502.55 870.08l7.7 13.3h-15.4z"/>
<path d="M1554.28 872.93l7.7 13.3h-15.4z"/>
<path d="M1592.84 841.4l7.7 13.3h-15.4z"/>
<path d="M1614.05 797.32l7.7 13.3h-15.4z"/>
<path d="M1699.58 798.16l7.7 13.3h-15.4z"/>
<path d="M1753.13 788.11l7.7 13.3h-15.4z"/>
<path d="M1768.81 794.22l7.7 13.3h-15.4z"/>
<path d="M1753.13 805.53l7.7 13.3h-15.4z"/>
<path d="M1713.44 825.71l7.7 13.3h-15.4z"/>
<path d="M1693.82 832.24l7.7 13.3h-15.4z"/>
<path d="M1663.29 835.59l7.7 13.3h-15.4z"/>
<path d="M1770.1 834.62l7.7 13.3h-15.4z"/>
<path d="M1612.76 764.12l7.7 13.3h-15.4z"/>
<path d="M1650.72 769.44l7.7 13.3h-15.4z"/>
<path d="M1642.31 778.78l7.7 13.3h-15.4z"/>
<path d="M1624.05 780.53l7.7 13.3h-15.4z"/>
<path d="M1668.67 839.44l7.7 13.3h-15.4z"/>
<path d="M1624.05 844.04l7.7 13.3h-15.4z"/>
<path d="M1631.7 849.53l7.7 13.3h-15.4z"/>
<path d="M1620.95 850.36l7.7 13.3h-15.4z"/>
<path d="M1622.01 854.42l7.7 13.3h-15.4z"/>
<path d="M1610.42 857.1l7.7 13.3h-15.4z"/>
<path d="M1727.38 847.94l7.7 13.3h-15.4z"/>
<path d="M1682.61 882.56l7.7 13.3h-15.4z"/>
<path d="M1672.46 885.95l7.7 13.3h-15.4z"/>
<path d="M1586.4 886.32l7.7 13.3h-15.4z"/>
<path d="M1854.41 784.3l7.7 13.3h-15.4z"/>
<path d="M1816.76 799.37l7.7 13.3h-15.4z"/>
<path d="M1916.3 802.3l7.7 13.3h-15.4z"/>
<path d="M1809.87 812.18l7.7 13.3h-15.4z"/>
<path d="M1802.75 817.42l7.7 13.3h-15.4z"/>
<path d="M1824.41 861.71l7.7 13.3h-15.4z"/>
<path d="M1943.57 870.04l7.7 13.3h-15.4z"/>
<path d="M2001.67 867.95l7.7 13.3h-15.4z"/>
</g>
<g font-size="22.7" fill="#262626">
<g text-anchor="middle">
<text transform="translate(1414.5 975) scale(0.96 1)">24</text>
<text transform="translate(1480.81 975) scale(0.96 1)">26</text>
<text transform="translate(1547.13 975) scale(0.96 1)">28</text>
<text transform="translate(1613.44 975) scale(0.96 1)">30</text>
<text transform="translate(1679.75 975) scale(0.96 1)">32</text>
<text transform="translate(1746.06 975) scale(0.96 1)">34</text>
<text transform="translate(1812.38 975) scale(0.96 1)">36</text>
<text transform="translate(1878.69 975) scale(0.96 1)">38</text>
<text transform="translate(1945 975) scale(0.96 1)">40</text>
</g><g text-anchor="end">
<text transform="translate(1405.3 953.8) scale(0.96 1)">-20</text>
<text transform="translate(1405.3 891.93) scale(0.96 1)">-10</text>
<text transform="translate(1405.3 830.05) scale(0.96 1)">0</text>
<text transform="translate(1405.3 768.18) scale(0.96 1)">10</text>
<text transform="translate(1405.3 706.3) scale(0.96 1)">20</text>
</g></g>
<text x="1992.4" y="753.34" font-size="25.2" text-anchor="end" fill="#000">10.2</text>
<text x="1992.4" y="826.35" font-size="25.2" text-anchor="end" fill="#000">-1.6</text>
<text x="1992.4" y="899.36" font-size="25.2" text-anchor="end" fill="#000">-13.4</text>
<text transform="translate(1541.9 1004.9)" font-size="24.6" fill="#262626"><tspan x="-1" y="0">(SPAP</tspan><tspan x="65.6" y="11.6" font-size="18.9">EIT</tspan><tspan x="102.4" y="0">+</tspan><tspan x="122.4" y="0">SPAP</tspan><tspan x="181.1" y="11.6" font-size="18.9" letter-spacing="0.4">TTE</tspan><tspan x="217.7" y="0" letter-spacing="-0.45">)/2</tspan><tspan x="250.2" y="0" letter-spacing="-0.4">(mmHg)</tspan></text>
<text transform="translate(1434.09 929.9) scale(1.219 1)" font-size="24.6" fill="#000" style="stroke:none" font-style="italic">n</text>
<text transform="translate(1455.56 931.5) scale(1.470 1)" font-size="24.6" fill="#000" style="stroke:none">=</text>
<text x="1482.3" y="929.9" font-size="24.6" fill="#000">48</text>
<rect x="1572.4" y="710.3" width="271.7" height="33.6" fill="#fff" stroke="#262626" stroke-width="2.1"/>
<path d="M1603.5 717.93l7.7 13.3h-15.4z" fill="#77ac30"/>
<text x="1632.6" y="736.1" font-size="24.2" fill="#000">Profound hypoxemia</text>
</svg></body></html>
